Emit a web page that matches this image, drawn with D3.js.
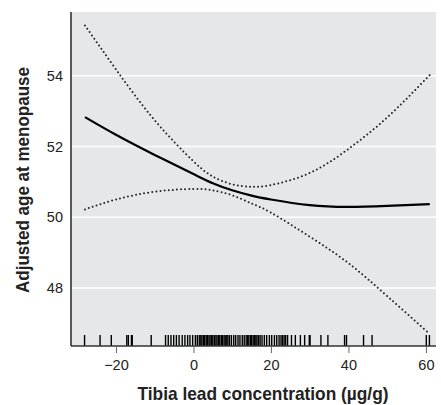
<!DOCTYPE html>
<html>
<head>
<meta charset="utf-8">
<script src="https://cdn.jsdelivr.net/npm/d3@7"></script>
<style>
  body { margin: 0; background: #fff; }
  svg { display: block; }
  text { font-family: "Liberation Sans", Arial, sans-serif; }
</style>
</head>
<body>
<div id="chart"></div>
<script>
// fitted curve + confidence bounds
const xs = [-28, -20, -10, 0, 5, 10, 15, 20, 30, 40, 50, 61];
const fit = [52.83, 52.33, 51.76, 51.22, 50.96, 50.76, 50.61, 50.5, 50.34, 50.29, 50.32, 50.37];
const upper = [55.42, 54.18, 52.74, 51.58, 51.15, 50.93, 50.86, 50.91, 51.25, 51.93, 52.82, 54.02];
const lower = [50.22, 50.5, 50.72, 50.8, 50.76, 50.62, 50.39, 50.13, 49.45, 48.7, 47.77, 46.7];

// observed tibia lead values (rug)
const rug = [-28.1, -24.1, -21.2, -17.2, -16.8, -16.0, -15.8, -10.9,
  -7.2, -6.5, -5.8, -5.1, -4.4, -3.7, -2.9, -2.2, -1.5, -0.9, -0.2, 0.5, 1.0, 1.5, 1.9, 2.2,
  2.6, 2.9, 3.3, 3.6, 4.0, 4.3, 4.7, 5.0, 5.4, 5.8, 6.1, 6.5, 6.8, 7.2, 7.5, 7.9, 8.2, 8.6,
  8.9, 9.3, 9.8, 10.4, 10.9, 11.5, 12.0, 12.6, 13.1, 13.6, 14.0, 14.3, 14.7, 15.0, 15.4,
  15.7, 16.1, 16.4, 16.8, 17.2, 17.7, 18.3, 18.9, 19.6, 20.2, 20.9, 21.5, 22.1, 22.6, 23.0,
  23.4, 23.8, 24.3, 25.3, 26.3, 27.6, 28.7, 29.9, 30.1, 32.9, 34.7, 39.0, 39.5, 43.9, 46.1,
  60.1, 60.9];

const xTicks = [-20, 0, 20, 40, 60];
const yTicks = [48, 50, 52, 54];

const W = 441, H = 405;
const m = { left: 71, right: 5, top: 12, bottom: 59 };

const svg = d3.select('#chart').append('svg').attr('width', W).attr('height', H);

const x = d3.scaleLinear().domain([-31.6, 62.6]).range([m.left, W - m.right]);
const y = d3.scaleLinear().domain([46.36, 55.8]).range([H - m.bottom, m.top]);

svg.append('rect')
  .attr('x', m.left).attr('y', m.top)
  .attr('width', W - m.right - m.left).attr('height', H - m.bottom - m.top)
  .attr('fill', '#e6e7e8');

// gridlines
svg.append('g').selectAll('line').data(yTicks).join('line')
  .attr('x1', m.left).attr('x2', W - m.right)
  .attr('y1', (d) => y(d)).attr('y2', (d) => y(d))
  .attr('stroke', '#fff').attr('stroke-width', 1.5);

// rug
svg.append('g').selectAll('line').data(rug).join('line')
  .attr('x1', (d) => x(d)).attr('x2', (d) => x(d))
  .attr('y1', H - m.bottom - 11).attr('y2', H - m.bottom)
  .attr('stroke', '#000').attr('stroke-width', 1.4);

const line = (vals) => d3.line()
  .x((d, i) => x(xs[i]))
  .y((d) => y(d))
  .curve(d3.curveNatural)(vals);

svg.append('path').attr('d', line(upper))
  .attr('fill', 'none').attr('stroke', '#222').attr('stroke-width', 2)
  .attr('stroke-linecap', 'round').attr('stroke-dasharray', '0,4.1');
svg.append('path').attr('d', line(lower))
  .attr('fill', 'none').attr('stroke', '#222').attr('stroke-width', 2)
  .attr('stroke-linecap', 'round').attr('stroke-dasharray', '0,4.1');
svg.append('path').attr('d', line(fit))
  .attr('fill', 'none').attr('stroke', '#000').attr('stroke-width', 2.2);

// x axis
const xAxis = svg.append('g')
  .attr('transform', `translate(0,${H - m.bottom})`)
  .call(d3.axisBottom(x).tickValues(xTicks).tickSize(7).tickSizeOuter(0)
    .tickFormat((d) => (d < 0 ? '\u2212' + Math.abs(d) : d)));
xAxis.select('.domain').attr('stroke', '#333').attr('stroke-width', 1.6)
  .attr('d', `M${m.left},0H${W - m.right}`);
xAxis.selectAll('.tick line').attr('stroke', '#666').attr('stroke-width', 1);
xAxis.selectAll('.tick text').attr('font-size', 14.5).attr('fill', '#222')
  .attr('y', 13.5).attr('font-family', '"Liberation Sans", Arial, sans-serif');

// y axis
const yAxis = svg.append('g')
  .attr('transform', `translate(${m.left},0)`)
  .call(d3.axisLeft(y).tickValues(yTicks).tickSize(0).tickPadding(8));
yAxis.select('.domain').attr('stroke', '#333').attr('stroke-width', 1.6)
  .attr('d', `M0,${m.top}V${H - m.bottom}`);
yAxis.selectAll('.tick text').attr('font-size', 14.5).attr('fill', '#222')
  .attr('font-family', '"Liberation Sans", Arial, sans-serif');

svg.append('text')
  .attr('x', 263).attr('y', 400)
  .attr('text-anchor', 'middle')
  .attr('font-size', 18.5).attr('font-weight', 'bold').attr('fill', '#222')
  .attr('textLength', 251).attr('lengthAdjust', 'spacingAndGlyphs')
  .text('Tibia lead concentration (µg/g)');

svg.append('text')
  .attr('transform', 'translate(28.5,180) rotate(-90)')
  .attr('text-anchor', 'middle')
  .attr('font-size', 18.5).attr('font-weight', 'bold').attr('fill', '#222')
  .attr('textLength', 226).attr('lengthAdjust', 'spacingAndGlyphs')
  .text('Adjusted age at menopause');
</script>
</body>
</html>
